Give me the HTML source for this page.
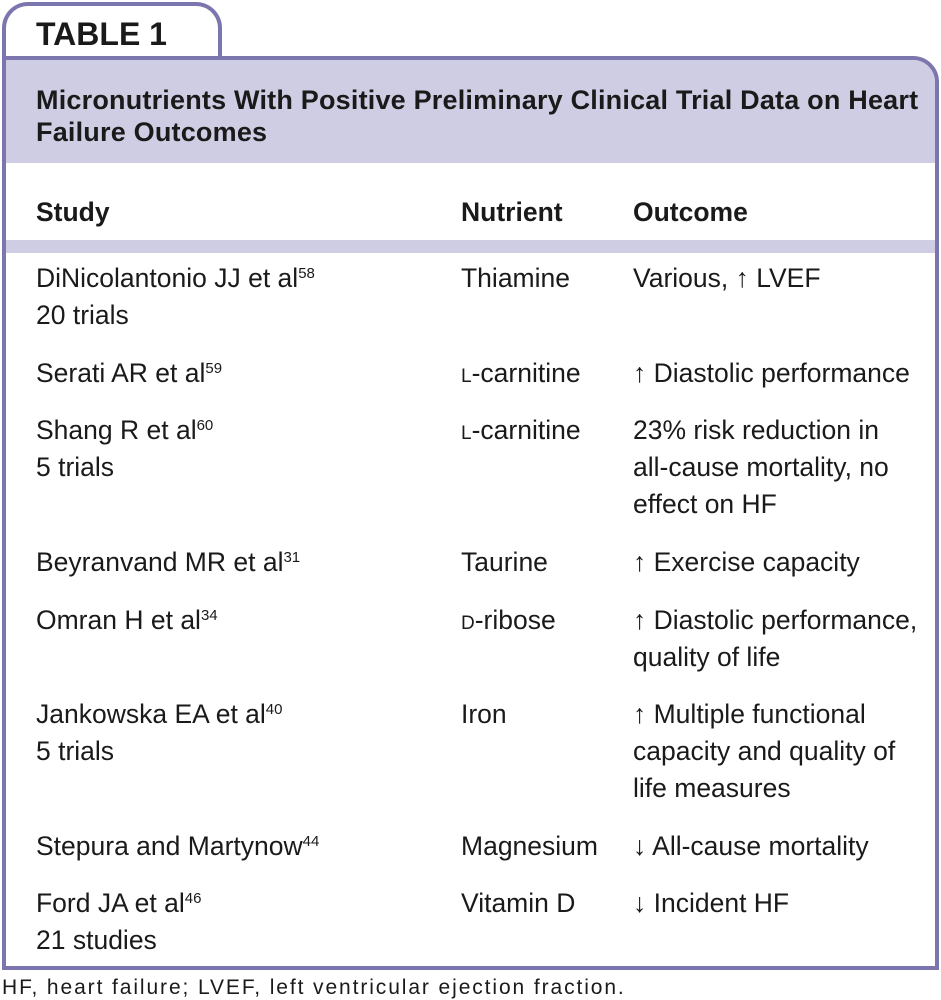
<!DOCTYPE html>
<html><head><meta charset="utf-8"><style>
body{margin:0;width:941px;height:1000px;background:#fff;position:relative;font-family:"Liberation Sans",sans-serif;color:#1a1a1a;overflow:hidden}
.t{position:absolute;white-space:nowrap;font-size:26.5px;line-height:30px;letter-spacing:0}
.b{font-weight:bold}
sup{font-size:15px;vertical-align:top;position:relative;top:-4px}
.sc{font-size:19px}
</style></head><body>
<div style="position:absolute;left:2px;top:2px;width:212px;height:60px;border:4px solid #7b76ad;border-bottom:none;border-radius:26px 26px 0 0;background:#fff"></div>
<div style="position:absolute;left:2px;top:56px;width:929px;height:906px;border:4px solid #7b76ad;border-radius:0 26px 0 0;background:#fff"></div>
<div style="position:absolute;left:6px;top:60px;width:929px;height:103px;background:#cfcde3;border-radius:0 22px 0 0"></div>
<div style="position:absolute;left:6px;top:240px;width:929px;height:13px;background:#cfcde3"></div>
<div class="t b" style="left:36px;top:15px;font-size:32px;line-height:38px">TABLE 1</div>
<div class="t b" style="left:36px;top:85px;font-size:27px;letter-spacing:0.2px">Micronutrients With Positive Preliminary Clinical Trial Data on Heart</div>
<div class="t b" style="left:36px;top:117px;font-size:27px;letter-spacing:0.2px">Failure Outcomes</div>
<div class="t b" style="left:36px;top:197px">Study</div>
<div class="t b" style="left:461px;top:197px">Nutrient</div>
<div class="t b" style="left:633px;top:197px">Outcome</div>

<div class="t" style="left:36px;top:263px">DiNicolantonio JJ et al<sup>58</sup></div>
<div class="t" style="left:36px;top:300px">20 trials</div>
<div class="t" style="left:461px;top:263px">Thiamine</div>
<div class="t" style="left:633px;top:263px">Various, ↑ LVEF</div>

<div class="t" style="left:36px;top:358px">Serati AR et al<sup>59</sup></div>
<div class="t" style="left:461px;top:358px"><span class="sc">L</span>-carnitine</div>
<div class="t" style="left:633px;top:358px">↑ Diastolic performance</div>

<div class="t" style="left:36px;top:415px">Shang R et al<sup>60</sup></div>
<div class="t" style="left:36px;top:452px">5 trials</div>
<div class="t" style="left:461px;top:415px"><span class="sc">L</span>-carnitine</div>
<div class="t" style="left:633px;top:415px">23% risk reduction in</div>
<div class="t" style="left:633px;top:452px">all-cause mortality, no</div>
<div class="t" style="left:633px;top:489px">effect on HF</div>

<div class="t" style="left:36px;top:547px">Beyranvand MR et al<sup>31</sup></div>
<div class="t" style="left:461px;top:547px">Taurine</div>
<div class="t" style="left:633px;top:547px">↑ Exercise capacity</div>

<div class="t" style="left:36px;top:605px">Omran H et al<sup>34</sup></div>
<div class="t" style="left:461px;top:605px"><span class="sc">D</span>-ribose</div>
<div class="t" style="left:633px;top:605px">↑ Diastolic performance,</div>
<div class="t" style="left:633px;top:642px">quality of life</div>

<div class="t" style="left:36px;top:699px">Jankowska EA et al<sup>40</sup></div>
<div class="t" style="left:36px;top:736px">5 trials</div>
<div class="t" style="left:461px;top:699px">Iron</div>
<div class="t" style="left:633px;top:699px">↑ Multiple functional</div>
<div class="t" style="left:633px;top:736px">capacity and quality of</div>
<div class="t" style="left:633px;top:773px">life measures</div>

<div class="t" style="left:36px;top:831px">Stepura and Martynow<sup>44</sup></div>
<div class="t" style="left:461px;top:831px">Magnesium</div>
<div class="t" style="left:633px;top:831px">↓ All-cause mortality</div>

<div class="t" style="left:36px;top:888px">Ford JA et al<sup>46</sup></div>
<div class="t" style="left:36px;top:925px">21 studies</div>
<div class="t" style="left:461px;top:888px">Vitamin D</div>
<div class="t" style="left:633px;top:888px">↓ Incident HF</div>

<div class="t" style="left:2px;top:976px;font-size:21px;line-height:24px;letter-spacing:1.9px">HF, heart failure; LVEF, left ventricular ejection fraction.</div>
</body></html>
